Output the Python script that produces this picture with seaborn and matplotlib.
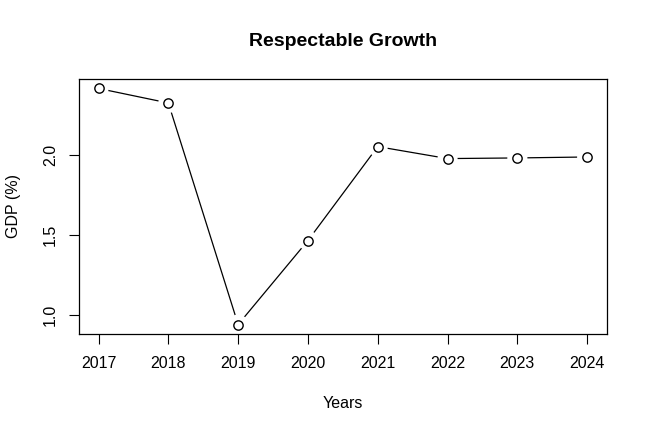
import seaborn as sns
import matplotlib.pyplot as plt
import pandas as pd

years = [2017, 2018, 2019, 2020, 2021, 2022, 2023, 2024]
gdp = [2.416, 2.325, 0.938, 1.464, 2.052, 1.977, 1.981, 1.987]
y_ticks = [1.0, 1.5, 2.0]

df = pd.DataFrame({"Years": years, "GDP": gdp})

sns.set_style("white")
plt.rcParams['font.family'] = ['Liberation Sans', 'DejaVu Sans']
plt.rcParams['text.color'] = 'black'
plt.rcParams['axes.labelcolor'] = 'black'

fig = plt.figure(figsize=(6.47, 4.32), dpi=100)
ax = fig.add_axes([0.1221, 0.2269, 0.8156, 0.5902])

sns.lineplot(data=df, x="Years", y="GDP", color="black", linewidth=0.9, ax=ax, zorder=2)
# white halos leave the small gaps around the points
sns.scatterplot(data=df, x="Years", y="GDP", s=210, color="white", edgecolor="none", ax=ax, zorder=3)
sns.scatterplot(data=df, x="Years", y="GDP", s=45, facecolor="white", edgecolor="black",
                linewidth=1.0, ax=ax, zorder=4)

span_x = years[-1] - years[0]
ax.set_xlim(years[0] - 0.04 * span_x, years[-1] + 0.04 * span_x)
span_y = max(gdp) - min(gdp)
ax.set_ylim(min(gdp) - 0.04 * span_y, max(gdp) + 0.04 * span_y)

ax.set_xticks(years)
ax.set_xticklabels([str(y) for y in years])
ax.set_yticks(y_ticks)
ax.set_yticklabels([f"{v:.1f}" for v in y_ticks], rotation=90, va="center")

ax.tick_params(axis="both", direction="out", length=7, width=0.8, color="black",
               labelsize=11.5, labelcolor="black", bottom=True, left=True)
ax.tick_params(axis="x", pad=9)
ax.tick_params(axis="y", pad=8)

for sp in ax.spines.values():
    sp.set_visible(True)
    sp.set_color("black")
    sp.set_linewidth(0.9)
    sp.set_zorder(10)

ax.set_xlabel("Years", fontsize=11.5, labelpad=18)
ax.set_ylabel("GDP (%)", fontsize=11.5, labelpad=16)
fig.text(0.53, 0.905, "Respectable Growth", ha="center", va="center",
         fontsize=14, fontweight="bold")

fig.savefig("out.png", dpi=100, facecolor="white")
